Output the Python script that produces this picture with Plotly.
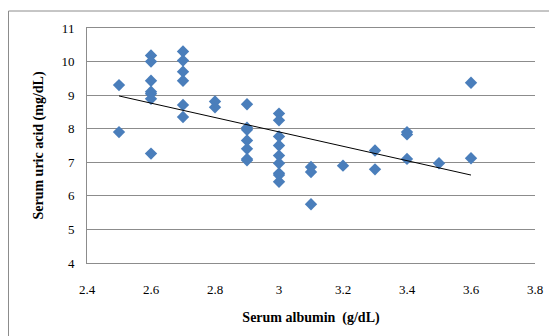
import numpy as np
import plotly.graph_objects as go

albumin = [2.5, 2.5,
           2.6, 2.6, 2.6, 2.6, 2.6, 2.6, 2.6,
           2.7, 2.7, 2.7, 2.7, 2.7, 2.7,
           2.8, 2.8,
           2.9, 2.9, 2.9, 2.9, 2.9, 2.9, 2.9,
           3.0, 3.0, 3.0, 3.0, 3.0, 3.0, 3.0, 3.0, 3.0,
           3.1, 3.1, 3.1,
           3.2,
           3.3, 3.3,
           3.4, 3.4, 3.4,
           3.5,
           3.6, 3.6]
uric_acid = [9.3, 7.9,
             10.18, 10.0, 9.43, 9.1, 9.04, 8.89, 7.26,
             10.3, 10.03, 9.7, 9.43, 8.71, 8.35,
             8.81, 8.64,
             8.73, 8.03, 7.97, 7.65, 7.4, 7.1, 7.06,
             8.45, 8.25, 7.77, 7.5, 7.2, 6.97, 6.67, 6.62, 6.42,
             6.86, 6.71, 5.75,
             6.9,
             7.35, 6.79,
             7.9, 7.83, 7.1,
             6.97,
             9.37, 7.12]

x_ticks = [2.4, 2.6, 2.8, 3.0, 3.2, 3.4, 3.6, 3.8]
x_tick_labels = ["2.4", "2.6", "2.8", "3", "3.2", "3.4", "3.6", "3.8"]
y_ticks = [4, 5, 6, 7, 8, 9, 10, 11]

slope, intercept = np.polyfit(albumin, uric_acid, 1)
trend_x = [min(albumin), max(albumin)]
trend_y = [slope * v + intercept for v in trend_x]

fig = go.Figure()
fig.add_trace(go.Scatter(
    x=albumin, y=uric_acid, mode="markers",
    marker=dict(symbol="diamond", size=9.5, color="#4a7ebb",
                line=dict(width=0)),
    showlegend=False, hoverinfo="x+y", cliponaxis=False))
fig.add_trace(go.Scatter(
    x=trend_x, y=trend_y, mode="lines",
    line=dict(color="#000000", width=1),
    showlegend=False, hoverinfo="skip"))

serif = "'Liberation Serif', 'Times New Roman', Times, serif"
grid = "#8c8c8c"
# page body has an 8px margin, so the figure is shrunk to fit the window
W, H = 549, 328
ML, MR, MT, MB = 79, 22, 20, 73
pw = W - ML - MR
ph = H - MT - MB
fig.update_layout(
    width=W, height=H,
    margin=dict(l=ML, r=MR, t=MT, b=MB),
    paper_bgcolor="white", plot_bgcolor="white",
    font=dict(family=serif, size=13, color="#000000"),
    xaxis=dict(range=[2.4, 3.8], tickvals=x_ticks, ticktext=x_tick_labels,
               showgrid=False, zeroline=False,
               showline=True, mirror=True, linecolor=grid, linewidth=1,
               ticks="", ticklabelstandoff=14,
               tickfont=dict(family=serif, size=13),
               title=dict(text="<b>Serum albumin  (g/dL)</b>",
                          font=dict(family=serif, size=14), standoff=16)),
    yaxis=dict(range=[4, 11], tickvals=y_ticks,
               showgrid=True, gridcolor=grid, gridwidth=1,
               zeroline=False, showline=True, linecolor=grid,
               linewidth=1, ticks="", ticklabelstandoff=9,
               tickfont=dict(family=serif, size=13),
               title=dict(text="<b>Serum uric acid (mg/dL)</b>",
                          font=dict(family=serif, size=14), standoff=14)),
    shapes=[dict(type="rect", xref="paper", yref="paper",
                 x0=(0.5 - ML) / pw, x1=2.0, y0=-0.5,
                 y1=(ph + MT - 3) / ph,
                 line=dict(color=grid, width=1), layer="below")],
)

fig.write_html("out.html")
